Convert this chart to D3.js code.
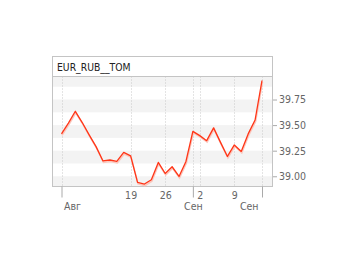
<!DOCTYPE html>
<html>
<head>
<meta charset="utf-8">
<script src="https://cdn.jsdelivr.net/npm/d3@7"></script>
<style>
  body { margin: 0; background: #fff; }
  text { font-family: "DejaVu Sans Condensed", "DejaVu Sans", sans-serif; }
</style>
</head>
<body>
<svg id="drawing_region"></svg>
<script>
// trading days, Aug 5 .. Sep 13
const dates = [
    '08-05','08-06','08-07','08-08','08-09',
    '08-12','08-13','08-14','08-15','08-16',
    '08-19','08-20','08-21','08-22','08-23',
    '08-26','08-27','08-28','08-29','08-30',
    '09-02','09-03','09-04','09-05','09-06',
    '09-09','09-10','09-11','09-12','09-13'
];
const values = [
    39.414, 39.52, 39.635, 39.525, 39.405,
    39.29, 39.15, 39.159, 39.145, 39.233,
    39.20, 38.94, 38.924, 38.966, 39.135,
    39.027, 39.093, 38.998, 39.145, 39.439,
    39.397, 39.348, 39.473, 39.331, 39.194,
    39.306, 39.243, 39.414, 39.55, 39.936
];
const weekTickDates = ['08-19', '08-26', '09-02', '09-09'];
const weekTickLabels = ['19', '26', '2', '9'];
const monthTickDates = ['08-05', '08-30', '09-13'];
const monthTickLabels = ['Авг', 'Сен', 'Сен'];
const yTicks = [39.00, 39.25, 39.50, 39.75];
const title = 'EUR_RUB__TOM';

const config = {
    width: 340,
    height: 255,
    left: 52.5, right: 272.5,
    titleTop: 56.5, top: 76.5, bottom: 186.5
};

const svg = d3.select('#drawing_region')
    .attr('width', config.width)
    .attr('height', config.height);

const xscale = d3.scalePoint()
    .domain(dates)
    .range([61.5, 262]);

const yscale = d3.scaleLinear()
    .domain([38.9, 39.975])
    .range([config.bottom, config.top]);

// stripes
const bandTops = yTicks.concat([yTicks[yTicks.length - 1] + 0.25]);
svg.append('g').selectAll('rect').data(bandTops).enter()
    .append('rect')
    .attr('x', config.left)
    .attr('width', config.right - config.left)
    .attr('y', d => Math.max(yscale(d), config.top))
    .attr('height', d => Math.min(yscale(d - 0.125), config.bottom) - Math.max(yscale(d), config.top))
    .attr('fill', '#f3f3f3');

// dotted vertical grid
const gridDates = weekTickDates.concat(monthTickDates);
svg.append('g').selectAll('line').data(gridDates).enter()
    .append('line')
    .attr('x1', d => Math.round(xscale(d)) + 0.5)
    .attr('x2', d => Math.round(xscale(d)) + 0.5)
    .attr('y1', config.top)
    .attr('y2', config.bottom)
    .attr('stroke', '#c8c8c8')
    .attr('stroke-dasharray', '1,2');

// frames
svg.append('rect')
    .attr('x', config.left).attr('y', config.titleTop)
    .attr('width', config.right - config.left)
    .attr('height', config.bottom - config.titleTop)
    .attr('fill', 'none')
    .attr('stroke', '#c4c4c4');
svg.append('line')
    .attr('x1', config.left).attr('x2', config.right)
    .attr('y1', config.top).attr('y2', config.top)
    .attr('stroke', '#c4c4c4');

svg.append('text')
    .attr('x', 57)
    .attr('y', 71)
    .attr('font-size', '10.3px')
    .attr('fill', '#222')
    .text(title);

// line with soft shadow
const line = d3.line()
    .x((d, i) => xscale(dates[i]))
    .y(d => yscale(d));

svg.append('path')
    .datum(values)
    .attr('d', line)
    .attr('transform', 'translate(0.5, 1.5)')
    .attr('fill', 'none')
    .attr('stroke', '#fbc7bd')
    .attr('stroke-width', 1.6);

svg.append('path')
    .datum(values)
    .attr('d', line)
    .attr('fill', 'none')
    .attr('stroke', '#ff3517')
    .attr('stroke-width', 1.3)
    .attr('stroke-linejoin', 'round');

// y axis
const yaxis = d3.axisRight(yscale)
    .tickValues(yTicks)
    .tickSize(4)
    .tickPadding(2)
    .tickFormat(d3.format('.2f'));

const yaxis_group = svg.append('g')
    .attr('transform', `translate(${config.right + 0.5}, 0)`)
    .call(yaxis);
yaxis_group.select('.domain').remove();
yaxis_group.selectAll('line').attr('stroke', '#aaa');
yaxis_group.selectAll('text')
    .attr('font-family', '"DejaVu Sans Condensed", "DejaVu Sans", sans-serif')
    .attr('font-size', '10.5px')
    .attr('fill', '#666');

// x axis: week numbers
const xaxis_week = d3.axisBottom(xscale)
    .tickValues(weekTickDates)
    .tickSize(0)
    .tickPadding(5)
    .tickFormat((d, i) => weekTickLabels[i]);

const week_group = svg.append('g')
    .attr('transform', `translate(0, ${config.bottom})`)
    .call(xaxis_week);
week_group.select('.domain').remove();
week_group.selectAll('text')
    .attr('font-family', '"DejaVu Sans Condensed", "DejaVu Sans", sans-serif')
    .attr('font-size', '10.5px')
    .attr('fill', '#666');

// x axis: months
const xaxis_month = d3.axisBottom(xscale)
    .tickValues(monthTickDates)
    .tickSize(11)
    .tickPadding(5)
    .tickFormat((d, i) => monthTickLabels[i]);

const month_group = svg.append('g')
    .attr('transform', `translate(0, ${config.bottom})`)
    .call(xaxis_month);
month_group.select('.domain').remove();
month_group.selectAll('line').attr('stroke', '#aaa');
const last = monthTickDates.length - 1;
month_group.selectAll('text')
    .attr('font-family', '"DejaVu Sans Condensed", "DejaVu Sans", sans-serif')
    .attr('font-size', '10.5px')
    .attr('fill', '#666')
    .attr('text-anchor', (d, i) => i === 0 ? 'start' : (i === last ? 'end' : 'middle'))
    .attr('x', (d, i) => i === 0 ? 2 : (i === last ? -4 : 0));
</script>
</body>
</html>
